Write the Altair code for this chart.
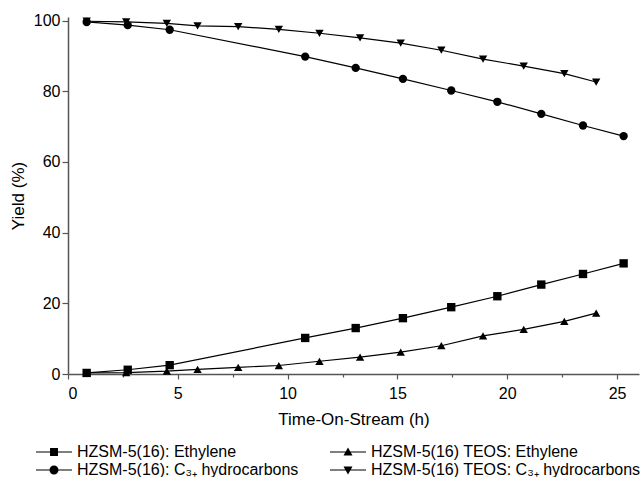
import altair as alt
import pandas as pd

S1 = "HZSM-5(16): Ethylene"
S2 = "HZSM-5(16) TEOS: Ethylene"
S3 = "HZSM-5(16): C₃₊ hydrocarbons"
S4 = "HZSM-5(16) TEOS: C₃₊ hydrocarbons"
series_order = [S1, S2, S3, S4]

time_hzsm = [0.85, 2.72, 4.63, 10.8, 13.1, 15.25, 17.45, 19.55, 21.55, 23.45, 25.3]
eth_hzsm = [0.3, 1.2, 2.5, 10.2, 13.0, 15.8, 18.9, 22.0, 25.3, 28.3, 31.3]
c3_hzsm = [99.6, 98.7, 97.4, 89.8, 86.6, 83.5, 80.2, 77.0, 73.6, 70.3, 67.3]

time_teos = [0.85, 2.65, 4.5, 5.9, 7.75, 9.6, 11.45, 13.3, 15.15, 17.0, 18.9, 20.75, 22.6, 24.05]
eth_teos = [0.3, 0.4, 0.8, 1.3, 1.9, 2.4, 3.6, 4.8, 6.2, 8.0, 10.8, 12.6, 14.9, 17.2]
c3_teos = [99.8, 99.6, 99.2, 98.5, 98.3, 97.5, 96.4, 95.1, 93.6, 91.6, 89.1, 87.1, 85.0, 82.6]

rows = []
for t, v in zip(time_hzsm, eth_hzsm):
    rows.append({"t": t, "y": v, "s": S1})
for t, v in zip(time_teos, eth_teos):
    rows.append({"t": t, "y": v, "s": S2})
for t, v in zip(time_hzsm, c3_hzsm):
    rows.append({"t": t, "y": v, "s": S3})
for t, v in zip(time_teos, c3_teos):
    rows.append({"t": t, "y": v, "s": S4})
df = pd.DataFrame(rows)

marker_shapes = ["square", "triangle-up", "circle", "triangle-down"]
# legend glyphs: a thin horizontal bar (the line) plus the marker, all filled
LINE = "M-2,-0.067H2V0.067H-2Z"
legend_shapes = [
    LINE + "M-0.44,-0.44H0.44V0.44H-0.44Z",
    LINE + "M0,-0.5L0.5,0.4L-0.5,0.4Z",
    LINE + "M-0.5,0A0.5,0.5 0 1,1 0.5,0A0.5,0.5 0 1,1 -0.5,0Z",
    LINE + "M0,0.5L-0.5,-0.4L0.5,-0.4Z",
]

x_ticks = [i * 2.5 for i in range(11)]
y_ticks = [i * 10 for i in range(11)]

FONT = "Liberation Sans"

x_enc = alt.X(
    "t:Q",
    scale=alt.Scale(domain=[0, 26], nice=False, zero=False),
    axis=alt.Axis(
        values=x_ticks,
        labelExpr="datum.value % 5 === 0 ? format(datum.value, 'd') : ''",
        tickSize={"condition": {"test": "datum.value % 5 === 0", "value": 5}, "value": 3},
        title="Time-On-Stream (h)",
        grid=False,
        labelFontSize=16,
        titleFontSize=17,
        titleFontWeight="normal",
        labelPadding=6,
        titlePadding=10,
    ),
)
y_enc = alt.Y(
    "y:Q",
    scale=alt.Scale(domain=[0, 101], nice=False),
    axis=alt.Axis(
        values=y_ticks,
        labelExpr="datum.value % 20 === 0 ? format(datum.value, 'd') : ''",
        tickSize={"condition": {"test": "datum.value % 20 === 0", "value": 6}, "value": 3},
        title="Yield (%)",
        grid=False,
        labelFontSize=16,
        titleFontSize=17,
        titleFontWeight="normal",
        labelPadding=2,
        titlePadding=6,
    ),
)

lines = alt.Chart(df).mark_line(color="black", strokeWidth=1.2).encode(
    x=x_enc, y=y_enc, detail="s:N"
)

point_layers = []
for name, shp in zip(series_order, marker_shapes):
    point_layers.append(
        alt.Chart(df)
        .transform_filter(alt.datum.s == name)
        .mark_point(filled=True, color="black", size=70, opacity=1, shape=shp)
        .encode(x="t:Q", y="y:Q")
    )

legend_layer = alt.Chart(df).mark_point(filled=True, color="black", opacity=0).encode(
    x="t:Q",
    y="y:Q",
    shape=alt.Shape(
        "s:N",
        scale=alt.Scale(domain=series_order, range=legend_shapes),
        legend=alt.Legend(
            title=None,
            orient="none",
            direction="horizontal",
            legendX=-23,
            legendY=426,
            columns=2,
            columnPadding=31,
            rowPadding=1,
            symbolSize=324,
            symbolOpacity=1,
            symbolFillColor="black",
            symbolStrokeWidth=0,
            labelFontSize=16,
            labelFont=FONT,
            labelOffset=14,
            labelLimit=400,
        ),
    ),
)

chart = (
    alt.layer(lines, *point_layers, legend_layer)
    .properties(
        width=571,
        height=357,
        autosize=alt.AutoSizeParams(type="none"),
        padding={"left": 68, "top": 17, "right": 4, "bottom": 103},
    )
    .configure_view(stroke=None)
    .configure_axis(
        labelFont=FONT,
        titleFont=FONT,
        labelColor="black",
        titleColor="black",
        domainColor="#555555",
        tickColor="#555555",
        domainWidth=1.5,
        tickWidth=1.2,
    )
)

chart.save("out.html", embed_options={"renderer": "svg", "actions": False})
